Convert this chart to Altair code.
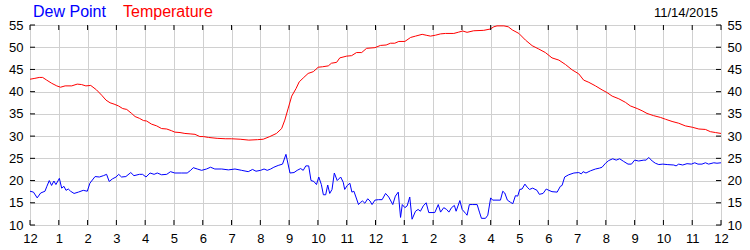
import altair as alt
import pandas as pd

# ---- data (hours since midnight) ----
dew_hours = [0.00, 0.12, 0.25, 0.37, 0.52, 0.58, 0.67, 0.75, 0.83, 0.90, 1.02, 1.10, 1.18, 1.25, 1.33, 1.41,
             1.53, 1.68, 1.85, 1.99, 2.08, 2.26, 2.41, 2.55, 2.66, 2.75, 2.87, 2.99, 3.08, 3.18, 3.33, 3.50,
             3.61, 3.80, 3.91, 4.03, 4.17, 4.31, 4.42, 4.57, 4.75, 4.88, 5.03, 5.27, 5.46, 5.58, 5.67, 5.81,
             5.96, 6.13, 6.27, 6.42, 6.66, 6.89, 7.12, 7.35, 7.58, 7.73, 7.85, 8.01, 8.13, 8.24, 8.36, 8.47,
             8.62, 8.77, 8.89, 9.03, 9.17, 9.28, 9.40, 9.49, 9.58, 9.68, 9.76, 9.86, 9.95, 10.03, 10.12,
             10.19, 10.27, 10.34, 10.41, 10.49, 10.57, 10.67, 10.79, 10.88, 10.93, 11.02, 11.11, 11.18,
             11.25, 11.32, 11.41, 11.48, 11.55, 11.63, 11.73, 11.81, 11.88, 11.98,
             12.10, 12.23, 12.35, 12.46, 12.60, 12.69, 12.79, 12.87, 12.93, 13.02, 13.10, 13.19, 13.27,
             13.39, 13.48, 13.56, 13.66, 13.76, 13.85, 14.06, 14.18, 14.26, 14.37, 14.47, 14.55, 14.64,
             14.74, 14.80, 14.93, 15.01, 15.13, 15.18, 15.26, 15.38, 15.53, 15.61, 15.68, 15.82, 15.90,
             16.00, 16.07, 16.22, 16.34, 16.42, 16.49, 16.58, 16.69, 16.77, 16.86, 16.94, 17.01, 17.09,
             17.19, 17.27, 17.35, 17.46, 17.61, 17.69, 17.82, 17.93, 18.02, 18.13, 18.31, 18.42, 18.48,
             18.57, 18.71, 18.89, 19.06, 19.15, 19.21, 19.31, 19.47, 19.64, 19.78, 19.87, 19.99, 20.10,
             20.24, 20.36, 20.48, 20.62, 20.77, 20.89, 21.00, 21.14, 21.32, 21.40, 21.49, 21.61, 21.72,
             21.84, 21.98, 22.13, 22.36, 22.44, 22.53, 22.67, 22.82, 22.97, 23.09, 23.20, 23.34, 23.46,
             23.57, 23.75, 23.86, 24.00]
dew_point = [17.6, 17.4, 16.1, 17.2, 17.6, 18.6, 20.0, 18.9, 19.9, 19.1, 20.5, 18.3, 18.7, 17.8, 18.1, 17.6,
             17.1, 17.4, 17.8, 17.6, 19.4, 20.9, 20.8, 21.1, 21.4, 19.8, 20.4, 20.8, 21.4, 20.8, 20.9, 21.8,
             21.1, 21.4, 21.4, 20.8, 21.7, 21.4, 21.7, 21.3, 21.4, 22.0, 21.7, 21.7, 21.7, 22.3, 22.9, 22.6,
             22.3, 22.6, 23.0, 22.6, 22.6, 22.4, 22.6, 22.3, 22.0, 22.5, 22.1, 22.3, 22.6, 22.3, 22.6, 23.0,
             23.4, 23.7, 25.9, 21.7, 21.8, 22.3, 22.7, 22.3, 23.3, 23.3, 20.0, 19.8, 19.1, 20.8, 19.1,
             16.8, 16.8, 19.0, 17.1, 18.0, 21.7, 20.0, 20.8, 19.6, 18.0, 18.9, 19.4, 17.4,
             17.6, 16.3, 14.6, 15.1, 15.4, 14.9, 15.9, 15.4, 14.6, 15.6,
             15.7, 15.7, 17.1, 16.3, 14.6, 16.5, 17.4, 11.7, 14.6, 13.9, 14.3, 16.3, 11.3,
             13.1, 13.5, 13.1, 14.3, 15.0, 12.8, 12.8, 14.6, 12.9, 13.9, 13.5, 12.9, 13.9,
             14.4, 13.1, 15.5, 13.5, 12.6, 12.2, 14.6, 14.6, 14.6, 12.9, 11.5, 11.5, 12.2,
             16.1, 15.6, 15.6, 15.6, 17.6, 17.2, 15.6, 15.1, 14.8, 16.6, 16.5, 18.0, 18.1,
             19.2, 18.5, 18.0, 18.3, 17.8, 16.9, 17.1, 18.1, 17.8, 17.5, 17.4, 18.7, 18.9,
             20.8, 21.3, 21.7, 21.8, 21.5, 22.0, 21.7, 22.2, 22.6, 22.8, 23.0, 23.9, 24.5,
             24.9, 24.6, 24.9, 24.3, 23.7, 23.7, 24.6, 24.4, 24.6, 24.6, 25.2, 24.4, 23.9,
             23.6, 23.7, 23.6, 23.5, 23.3, 23.7, 23.5, 23.8, 23.7, 24.0, 23.7, 23.7, 24.0,
             23.7, 24.0, 23.9, 24.0]

temp_hours = [0.00, 0.17, 0.32, 0.44, 0.58, 0.75, 0.93, 1.06, 1.22, 1.45, 1.64, 1.79, 1.94, 2.11, 2.31, 2.49,
              2.64, 2.78, 2.92, 3.07, 3.22, 3.36, 3.53, 3.65, 3.80, 3.94, 4.05, 4.22, 4.40, 4.57, 4.75, 4.92,
              5.03, 5.21, 5.38, 5.56, 5.73, 5.90, 6.02, 6.20, 6.50, 6.80, 7.00, 7.30, 7.60, 7.90, 8.10, 8.33,
              8.56, 8.74, 8.85, 8.97, 9.09, 9.24, 9.35, 9.51, 9.66, 9.84, 10.01, 10.16, 10.36, 10.47, 10.65,
              10.76, 11.00, 11.17, 11.34, 11.52, 11.69, 11.98,
              12.17, 12.37, 12.52, 12.67, 12.81, 13.02, 13.22, 13.39, 13.62, 13.76, 13.91, 14.08, 14.26,
              14.43, 14.72, 14.89, 15.03, 15.18, 15.41, 15.76, 15.99, 16.11, 16.22, 16.46, 16.61, 16.75,
              16.98, 17.21, 17.44, 17.67, 17.90, 18.13, 18.37, 18.60, 18.83, 19.06, 19.23, 19.41, 19.64,
              19.87, 20.04, 20.22, 20.45, 20.68, 20.85, 21.09, 21.26, 21.43, 21.66, 21.90, 22.07, 22.30,
              22.53, 22.76, 23.00, 23.23, 23.46, 23.63, 23.81, 24.00]
temperature = [42.8, 43.0, 43.2, 43.2, 42.6, 41.9, 41.3, 41.0, 41.3, 41.3, 41.7, 41.6, 41.3, 41.4, 40.4, 39.2,
               38.1, 37.5, 37.2, 36.8, 36.2, 36.0, 35.1, 34.4, 34.0, 33.5, 33.4, 32.7, 32.3, 31.7, 31.6, 31.2,
               30.9, 30.8, 30.6, 30.5, 30.4, 29.9, 29.9, 29.7, 29.5, 29.4, 29.4, 29.3, 29.1, 29.2, 29.3, 29.9,
               30.6, 31.7, 33.6, 36.3, 39.0, 40.7, 42.2, 43.2, 44.1, 44.5, 45.5, 45.6, 45.8, 46.4, 46.6,
               47.6, 48.0, 48.1, 48.8, 48.8, 49.75, 49.9,
               50.4, 50.5, 50.9, 50.9, 51.3, 51.3, 52.2, 52.5, 52.9, 52.7, 52.5, 52.7, 53.0,
               53.1, 53.1, 53.4, 53.65, 53.35, 53.7, 53.8, 54.1, 54.6, 54.8, 54.8, 54.6, 53.9,
               53.1, 51.6, 50.35, 49.6, 48.8, 47.6, 47.1, 46.1, 44.9, 44.0, 42.6, 42.1, 41.3,
               40.4, 39.8, 39.0, 38.4, 37.6, 36.8, 36.2, 35.7, 35.1, 34.6, 34.2, 33.8, 33.3,
               32.9, 32.3, 32.0, 31.6, 31.5, 31.0, 30.8, 30.6]

series_names = ["Dew Point", "Temperature"]
series_colors = ["#0000ff", "#ff0000"]
date_label = "11/14/2015"
hour_ticks = list(range(0, 25))
hour_labels = ["12", "1", "2", "3", "4", "5", "6", "7", "8", "9", "10", "11",
               "12", "1", "2", "3", "4", "5", "6", "7", "8", "9", "10", "11", "12"]
y_ticks = [10, 15, 20, 25, 30, 35, 40, 45, 50, 55]

W, H = 691, 200
FONT = "Liberation Sans"

df = pd.concat([
    pd.DataFrame({"hour": dew_hours, "value": dew_point, "series": series_names[0]}),
    pd.DataFrame({"hour": temp_hours, "value": temperature, "series": series_names[1]}),
])
xt = pd.DataFrame({"hour": hour_ticks})
yt = pd.DataFrame({"v": y_ticks})

label_expr = "[" + ",".join("'%s'" % s for s in hour_labels) + "][datum.value]"

xscale = alt.Scale(domain=[0, 24], nice=False, zero=False)
yscale = alt.Scale(domain=[10, 55], nice=False, zero=False)

x_axis = alt.Axis(values=hour_ticks, labelExpr=label_expr, grid=True, gridColor="#d0d0d0",
                  tickSize=0, domain=False, labelPadding=7, labelFontSize=13, labelFont=FONT,
                  labelColor="black", title=None, labelFlush=False, labelOverlap=False,
                  labelBound=False)
yl_axis = alt.Axis(values=y_ticks, grid=True, gridColor="#d0d0d0", tickSize=0, domain=False,
                   labelPadding=7, labelFontSize=13, labelFont=FONT, labelColor="black",
                   title=None, orient="left", labelOverlap=False)
yr_axis = alt.Axis(values=y_ticks, grid=False, tickSize=0, domain=False, labelPadding=6,
                   labelFontSize=13, labelFont=FONT, labelColor="black", title=None,
                   orient="right", labelAlign="left", labelOverlap=False)

lines = alt.Chart(df).mark_line(strokeWidth=1, clip=True).encode(
    x=alt.X("hour:Q", scale=xscale, axis=x_axis),
    y=alt.Y("value:Q", scale=yscale, axis=yl_axis),
    color=alt.Color("series:N", scale=alt.Scale(domain=series_names, range=series_colors), legend=None),
)

tick_color = "black"
bottom_ticks = alt.Chart(xt).mark_rule(color=tick_color).encode(
    x=alt.X("hour:Q", scale=xscale, axis=x_axis), y=alt.value(H), y2=alt.value(H - 5))
top_ticks = alt.Chart(xt).mark_rule(color=tick_color).encode(
    x=alt.X("hour:Q", scale=xscale, axis=x_axis), y=alt.value(0), y2=alt.value(5))
left_ticks = alt.Chart(yt).mark_rule(color=tick_color).encode(
    y=alt.Y("v:Q", scale=yscale, axis=None), x=alt.value(0), x2=alt.value(5))
right_ticks = alt.Chart(yt).mark_rule(color=tick_color).encode(
    y=alt.Y("v:Q", scale=yscale, axis=yr_axis), x=alt.value(W - 5), x2=alt.value(W))


def label(text, x, color, size, align="left"):
    return alt.Chart(pd.DataFrame({"t": [text]})).mark_text(
        align=align, baseline="alphabetic", fontSize=size, font=FONT, color=color
    ).encode(text="t:N", x=alt.value(x), y=alt.value(-8))


t1 = label(series_names[0], 3, series_colors[0], 16)
t2 = label(series_names[1], 93, series_colors[1], 16)
t3 = label(date_label, 688, "black", 13, align="right")

chart = alt.layer(lines, bottom_ticks, top_ticks, left_ticks, right_ticks, t1, t2, t3).resolve_scale(
    y="independent"
).properties(
    width=W, height=H, autosize="none",
    padding={"left": 30, "top": 25, "right": 29, "bottom": 25},
).configure_view(stroke="black", strokeWidth=1).configure_axis(
    labelOverlap=False
).configure(background="white")

chart.save("out.html", embed_options={"renderer": "svg", "actions": False})
